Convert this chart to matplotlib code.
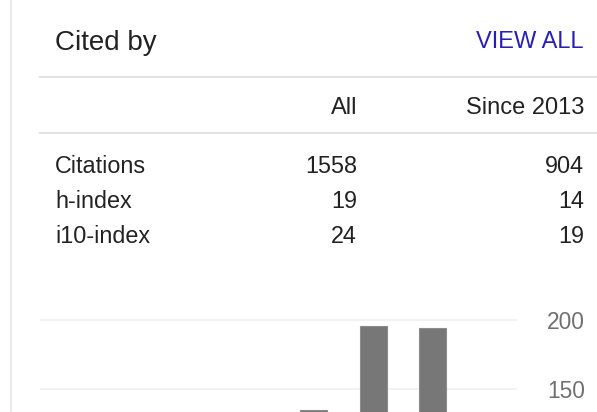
import matplotlib
matplotlib.use("Agg")
import matplotlib.pyplot as plt
from matplotlib.lines import Line2D

# panel data
metric_names = ["Citations", "h-index", "i10-index"]
all_values = [1558, 19, 24]
since_values = [904, 14, 19]
col_headers = ["All", "Since 2013"]

years = [2011, 2012, 2013, 2014, 2015, 2016, 2017, 2018]
cites_per_year = [78, 95, 120, 128, 135, 196, 194, 131]
y_ticks = [150, 200]  # only these are inside the visible crop

W, H = 597, 412
plt.rcParams["font.family"] = ["Liberation Sans", "DejaVu Sans"]


def fx(x):
    return x / W


def fy(y):
    return 1 - y / H


fig = plt.figure(figsize=(W / 100, H / 100), dpi=100)
fig.patch.set_facecolor("white")

# left border + separators
fig.add_artist(Line2D([fx(11), fx(11)], [0, 1], color="#ececec", lw=1.6))
for yy in (77, 133):
    fig.add_artist(Line2D([fx(40), 1], [fy(yy), fy(yy)], color="#e3e3e3", lw=1.5))

dark = "#222222"
fig.text(fx(55), fy(50), "Cited by", fontsize=20, color=dark, va="baseline")
fig.text(fx(584), fy(48), "VIEW ALL", fontsize=17, color="#2a1fb5", va="baseline", ha="right")
fig.text(fx(357), fy(114), col_headers[0], fontsize=17, color=dark, va="baseline", ha="right")
fig.text(fx(584), fy(114), col_headers[1], fontsize=17, color=dark, va="baseline", ha="right")

for i, name in enumerate(metric_names):
    base = 173 + 35 * i
    fig.text(fx(55), fy(base), name, fontsize=16.8, color=dark, va="baseline")
    fig.text(fx(357), fy(base), str(all_values[i]), fontsize=16.8, color=dark, va="baseline", ha="right")
    fig.text(fx(584), fy(base), str(since_values[i]), fontsize=16.8, color=dark, va="baseline", ha="right")

# bar chart (mostly cut off by the bottom edge)
y_top, y_zero = 292.4, 596.0
ax = fig.add_axes([fx(40), fy(y_zero), (517 - 40) / W, (y_zero - y_top) / H])
ax.set_facecolor("none")
xs = list(range(len(years)))
ax.bar(xs, cites_per_year, width=0.454, color="#777777", edgecolor="#8c8c8c", linewidth=0.8, zorder=3)
ax.set_xlim(-0.597, 7.42)
ax.set_ylim(0, 220)
ax.set_yticks(y_ticks)
ax.yaxis.tick_right()
ax.tick_params(axis="y", length=0, pad=21.5, labelsize=16.4, labelcolor="#707070")
ax.set_xticks([])
ax.grid(axis="y", color="#efefef", lw=1.1, zorder=0)
for s in ax.spines.values():
    s.set_visible(False)

fig.savefig("out.png", dpi=100)
